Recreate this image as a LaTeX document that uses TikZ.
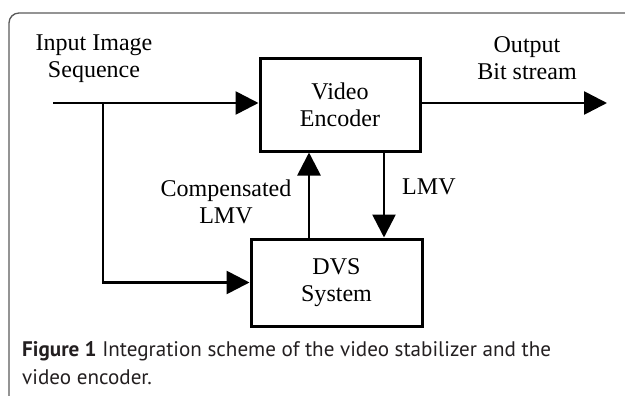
\documentclass[tikz,border=0pt]{standalone}
\usepackage{fontspec}
\setmainfont{Liberation Serif}
\newfontfamily\capfont{PT Sans}
\usetikzlibrary{arrows.meta,positioning,calc}
\definecolor{frgris}{RGB}{90,90,90}
\definecolor{capgris}{RGB}{35,31,32}

\begin{document}
\begin{tikzpicture}[x=0.03cm, y=-0.03cm,
  blk/.style={rectangle, draw=black, line width=0.09cm, minimum width=160*0.03cm,
    minimum height=92*0.03cm, inner sep=0pt, align=center,
    font=\fontsize{20.5}{23}\selectfont},
  lbl/.style={align=center, inner sep=0pt, font=\fontsize{20.5}{23}\selectfont},
  tr/.style={-{Triangle[length=0.69cm, width=0.69cm]}, line width=0.08cm, black}
]
  \useasboundingbox (0,0) rectangle (625,395);
  % frame
  \draw[frgris, line width=0.04cm, rounded corners=0.3cm] (640,13) -- (9,13) -- (9,410);

  \node[blk] (enc) at (340,105) {Video\\Encoder};
  \node[blk, minimum width=171*0.03cm, minimum height=87*0.03cm] (dvs) at (336.5,282.5) {DVS\\System};

  \node[lbl] (inlbl)   at (94,59)   {Input Image\\Sequence};
  \node[lbl] (outlbl)  at (527,58)  {Output\\Bit stream};
  \node[lbl] (complbl) at (226,202) {Compensated\\LMV};
  \node[lbl, anchor=west] (lmvlbl) at (402,187) {LMV};

  \coordinate (instart) at (53,103);
  \coordinate (br)      at (103,103);
  \coordinate (outend)  at (607,103);
  \coordinate (upx)     at (309,0);
  \coordinate (dnx)     at (384,0);

  \draw[tr] (instart) -- (instart -| enc.west);
  \draw[tr] (br) |- (dvs.west);
  \draw[tr] (enc.east |- outend) -- (outend);
  \draw[tr] (upx |- dvs.north) -- (upx |- enc.south);
  \draw[tr] (dnx |- enc.south) -- (dnx |- dvs.north);

  % caption
  \node[anchor=west, align=left, inner sep=0pt, text=capgris,
        font=\capfont\fontsize{18}{23.8}\selectfont] (cap) at (22,363)
    {\textbf{Figure 1} Integration scheme of the video stabilizer and the\\video encoder.};
\end{tikzpicture}
\end{document}
